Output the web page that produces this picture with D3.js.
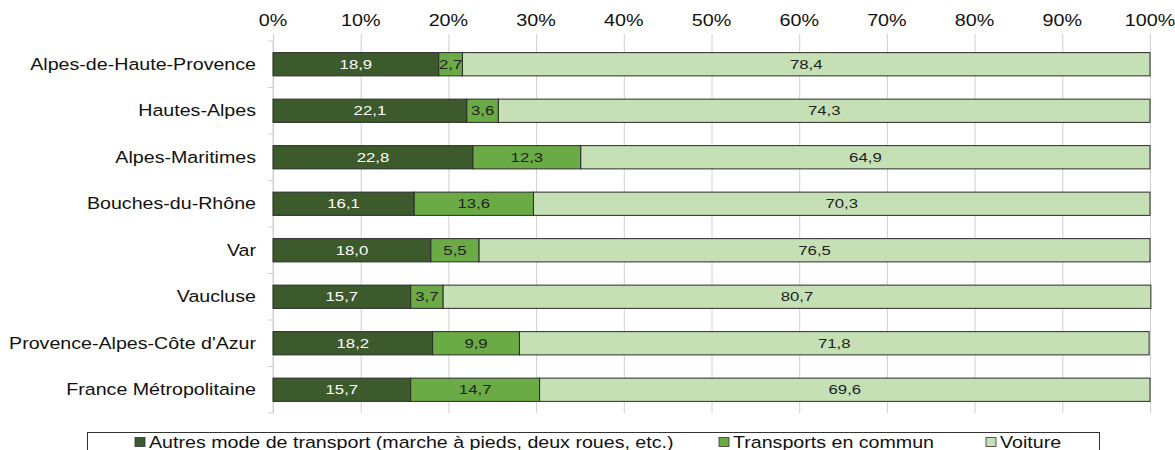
<!DOCTYPE html>
<html lang="fr">
<head>
<meta charset="utf-8">
<title>Modes de transport</title>
<script src="https://d3js.org/d3.v7.min.js"></script>
<style>
  body { margin: 0; background: #fff; font-family: "Liberation Sans", Arial, sans-serif; }
  .grid path { display: none; }
</style>
</head>
<body>
<div id="chart"></div>
<script>
// data
var categories = ["Alpes-de-Haute-Provence", "Hautes-Alpes", "Alpes-Maritimes", "Bouches-du-Rhône",
  "Var", "Vaucluse", "Provence-Alpes-Côte d'Azur", "France Métropolitaine"]
var autres = [18.9, 22.1, 22.8, 16.1, 18.0, 15.7, 18.2, 15.7]
var transports = [2.7, 3.6, 12.3, 13.6, 5.5, 3.7, 9.9, 14.7]
var voiture = [78.4, 74.3, 64.9, 70.3, 76.5, 80.7, 71.8, 69.6]
var seriesNames = ["Autres mode de transport (marche à pieds, deux roues, etc.)", "Transports en commun", "Voiture"]
var tickValues = [0, 10, 20, 30, 40, 50, 60, 70, 80, 90, 100]

var colors = ["#3c5a2b", "#6aab45", "#c5e0b4"]
var textColors = ["#ffffff", "#222", "#222"]

var w = 1175, h = 450
var mLeft = 273, mRight = 1150, mTop = 41, mBottom = 413
var sx = 1.25 // the reference text is stretched horizontally

var svg = d3.select("#chart").append("svg").attr("width", w).attr("height", h)

var x = d3.scaleLinear().domain([0, 100]).range([mLeft, mRight])
var y = d3.scaleBand().domain(categories).range([mTop, mBottom]).paddingInner(0.5).paddingOuter(0.25)

// helper: text placed at (px,py), stretched by sx
function txt(g, px, py, s, size, anchor, fill) {
  return g.append("text")
    .attr("transform", "translate(" + px + "," + py + ") scale(" + sx + ",1)")
    .attr("text-anchor", anchor)
    .attr("font-size", size)
    .attr("fill", fill)
    .text(s)
}

// gridlines
svg.append("g").attr("class", "grid")
  .attr("transform", "translate(0," + mBottom + ")")
  .call(d3.axisTop(x).tickValues(tickValues).tickSize(mBottom - mTop + 7).tickFormat(""))
  .selectAll("line").attr("stroke", "#d0d0d0")

// top tick labels
var tg = svg.append("g")
tickValues.forEach(function(d) {
  txt(tg, x(d), 26, d + "%", 15.8, "middle", "#111")
})

// y axis line and small ticks at band boundaries
var step = y.step()
svg.append("line").attr("x1", mLeft).attr("x2", mLeft).attr("y1", mTop).attr("y2", mBottom).attr("stroke", "#d0d0d0")
svg.append("g").selectAll("line").data(d3.range(categories.length + 1)).enter().append("line")
  .attr("x1", mLeft - 5).attr("x2", mLeft)
  .attr("y1", function(i) { return mTop + i * step })
  .attr("y2", function(i) { return mTop + i * step })
  .attr("stroke", "#d0d0d0")

// category labels
var cg = svg.append("g")
categories.forEach(function(c) {
  txt(cg, mLeft - 17, y(c) + y.bandwidth() / 2 + 5.5, c, 15.7, "end", "#111")
})

// stacked bars
var rows = categories.map(function(c, i) {
  return { cat: c, vals: [autres[i], transports[i], voiture[i]] }
})

var bg = svg.append("g")
rows.forEach(function(r) {
  var start = 0
  r.vals.forEach(function(v, k) {
    var x0 = x(start), x1 = x(start + v)
    bg.append("rect")
      .attr("x", x0).attr("y", y(r.cat))
      .attr("width", x1 - x0).attr("height", y.bandwidth())
      .attr("fill", colors[k])
      .attr("stroke", "#2a2a2a").attr("stroke-width", 1)
    txt(bg, (x0 + x1) / 2, y(r.cat) + y.bandwidth() / 2 + 4.7, v.toFixed(1).replace(".", ","), 13.4, "middle", textColors[k])
    start += v
  })
})

// legend
var lg = svg.append("g")
lg.append("rect").attr("x", 87.5).attr("y", 432.5).attr("width", 1012).attr("height", 30)
  .attr("fill", "none").attr("stroke", "#333")
var legX = [135, 719, 986]
seriesNames.forEach(function(n, k) {
  lg.append("rect").attr("x", legX[k]).attr("y", 437.5).attr("width", 10).attr("height", 9)
    .attr("fill", colors[k]).attr("stroke", "#333").attr("stroke-width", 0.8)
  txt(lg, legX[k] + 14, 448, n, 15.7, "start", "#111")
})
</script>
</body>
</html>
